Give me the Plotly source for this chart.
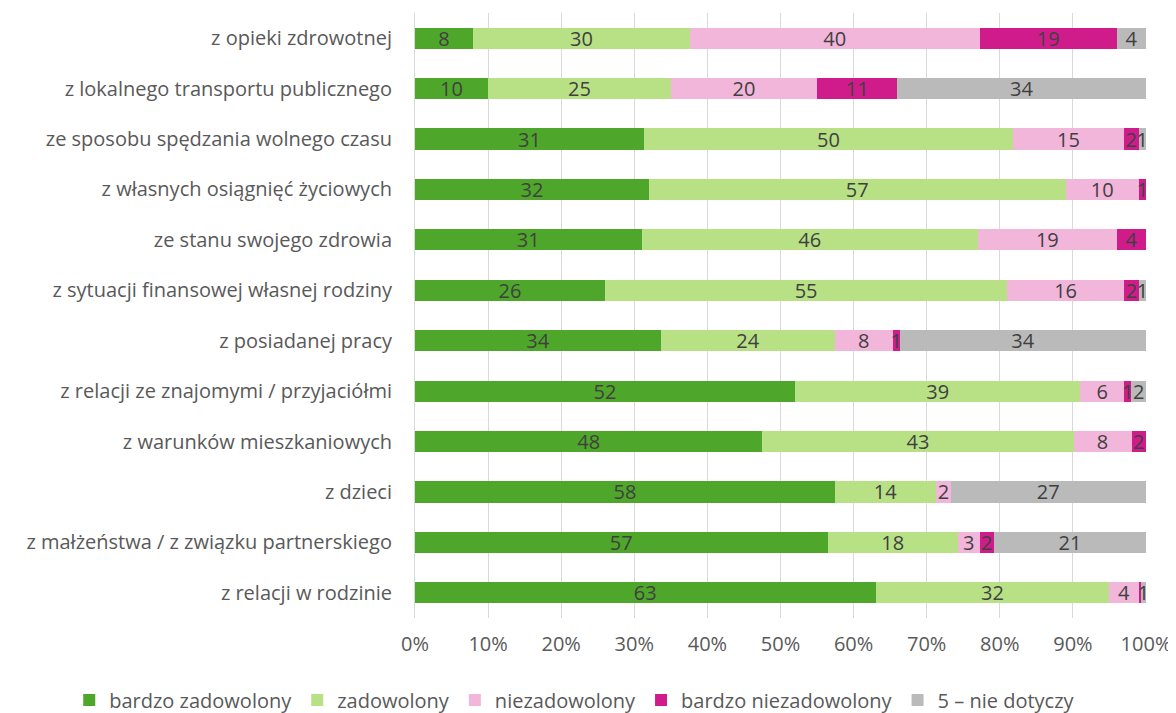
import plotly.graph_objects as go

categories = [
    "z opieki zdrowotnej",
    "z lokalnego transportu publicznego",
    "ze sposobu spędzania wolnego czasu",
    "z własnych osiągnięć życiowych",
    "ze stanu swojego zdrowia",
    "z sytuacji finansowej własnej rodziny",
    "z posiadanej pracy",
    "z relacji ze znajomymi / przyjaciółmi",
    "z warunków mieszkaniowych",
    "z dzieci",
    "z małżeństwa / z związku partnerskiego",
    "z relacji w rodzinie",
]

bardzo_zadowolony = [8, 10, 31, 32, 31, 26, 34, 52, 48, 58, 57, 63]
zadowolony = [30, 25, 50, 57, 46, 55, 24, 39, 43, 14, 18, 32]
niezadowolony = [40, 20, 15, 10, 19, 16, 8, 6, 8, 2, 3, 4]
bardzo_niezadowolony = [19, 11, 2, 1, 4, 2, 1, 1, 2, 0, 2, 0.3]
nie_dotyczy = [4, 34, 1, None, None, 1, 34, 2, None, 27, 21, 0.7]

series_names = ["bardzo zadowolony", "zadowolony", "niezadowolony",
                "bardzo niezadowolony", "5 – nie dotyczy"]
series_values = [bardzo_zadowolony, zadowolony, niezadowolony,
                 bardzo_niezadowolony, nie_dotyczy]
colors = ["#4EA72A", "#B8E186", "#F1B6DA", "#D01C8B", "#BABABA"]

FONT = "Open Sans"
FS = 20

fig = go.Figure()
for name, vals, col in zip(series_names, series_values, colors):
    texts = ["" if v is None else f"{v:.0f}" for v in vals]
    if name == "bardzo niezadowolony":
        texts = [t if v is None or v >= 0.5 or v == 0 else "" for t, v in zip(texts, vals)]
    fig.add_trace(go.Bar(
        y=categories, x=vals, name=name, orientation="h",
        marker=dict(color=col, line=dict(width=0)),
        text=texts, textposition="inside", insidetextanchor="middle",
        textangle=0, constraintext="none",
        textfont=dict(family=FONT, size=FS, color="#404040"),
        cliponaxis=False,
    ))

# page body has an 8px margin, so the figure is 8px smaller than the window
fig.update_layout(
    barmode="stack", barnorm="percent", bargap=0.58,
    width=1168, height=705,
    margin=dict(l=407, r=30, t=5, b=95, autoexpand=False),
    paper_bgcolor="white", plot_bgcolor="white",
    font=dict(family=FONT, size=FS, color="#595959"),
    uniformtext=dict(minsize=FS, mode="show"),
    legend=dict(orientation="h", xref="paper", yref="paper",
                x=-0.473, xanchor="left", y=-0.1355, yanchor="middle",
                font=dict(family=FONT, size=FS, color="#595959"),
                traceorder="normal", itemwidth=30),
    showlegend=True,
)
fig.update_xaxes(range=[0, 100], tickvals=list(range(0, 101, 10)),
                 ticktext=[f"{v}%" for v in range(0, 101, 10)],
                 showgrid=True, gridcolor="#D9D9D9", gridwidth=1,
                 zeroline=False, showline=False, ticks="",
                 automargin=False, ticklabelstandoff=12,
                 tickfont=dict(family=FONT, size=FS, color="#595959"))
fig.update_yaxes(autorange="reversed", showgrid=False, ticks="",
                 showline=True, linecolor="#D9D9D9", ticklabelstandoff=18,
                 automargin=False,
                 tickfont=dict(family=FONT, size=FS, color="#595959"))

fig.write_html("out.html")
